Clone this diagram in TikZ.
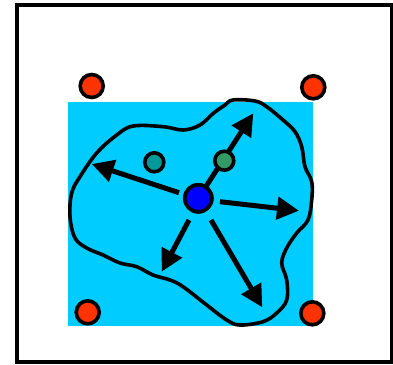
\documentclass[tikz,border=0pt]{standalone}
\usetikzlibrary{arrows.meta}
\definecolor{skyc}{HTML}{00CCFF}
\definecolor{redc}{HTML}{FF3300}
\definecolor{bluec}{HTML}{0000FF}
\definecolor{tealc}{HTML}{009999}
\definecolor{greenc}{HTML}{339966}
\tikzset{
  dot/.style={circle,draw=black,line width=3.6pt,inner sep=0pt,minimum size=#1},
  reddot/.style={dot=23pt,fill=redc},
  ray/.style={line width=5pt,-{Triangle[length=22pt,width=22pt]}},
  blobline/.style={line width=3.6pt,line join=round}
}
\begin{document}
\begin{tikzpicture}[x=1pt,y=-1pt]
\useasboundingbox (0,0) rectangle (393,364);
\draw[line width=4pt] (17,5) rectangle (391.5,361.5);
\fill[skyc] (68,102) rectangle (313,326);
\draw[blobline] plot[smooth cycle,tension=0.6] coordinates {
(233,100) (255,101) (266.7,106.7) (283,120) (295,131.7) (301.7,146.7) (305,166.7)
(311.7,181.7) (311.7,200) (308,220) (296.7,233) (286.7,248) (281.7,263) (286.7,280)
(286.7,300) (276.7,313) (263,321.7) (240,325) (226.7,320) (206.7,305) (183,286.7)
(170,280) (153,275) (136.7,266.7) (120,263) (103,255) (86.7,248) (75,238) (70,216.7)
(71.7,193) (80,176.7) (96.7,153) (116.7,135) (133.3,126) (163.3,126.7) (183.3,130)
(200,125) (213.3,113.3) (225,105)};
\node[reddot] (r1) at (91.7,86) {};
\node[reddot] (r2) at (313.3,87.3) {};
\node[reddot] (r3) at (87.7,312.3) {};
\node[reddot] (r4) at (312.3,313.3) {};
\coordinate (t1) at (91.7,164);
\coordinate (t2) at (299,210.7);
\coordinate (t3) at (161.7,271.7);
\coordinate (t4) at (262.3,307.3);
\coordinate (t5) at (253.3,113.3);
\node[dot=27pt,fill=bluec] (c) at (198.3,198.3) {};
\coordinate (s1) at (179,192.7);
\coordinate (s2) at (220,201.7);
\coordinate (s3) at (189,220);
\coordinate (s4) at (211,220);
\draw[ray] (s1) -- (t1);
\draw[ray] (s2) -- (t2);
\draw[ray] (s3) -- (t3);
\draw[ray] (s4) -- (t4);
\draw[ray] (c) -- (t5);
\node[dot=27pt,fill=bluec] at (c) {};
\node[dot=19pt,fill=tealc] (g1) at (154.3,162.3) {};
\node[dot=19pt,fill=greenc] (g2) at (224.3,160.7) {};
\end{tikzpicture}
\end{document}
